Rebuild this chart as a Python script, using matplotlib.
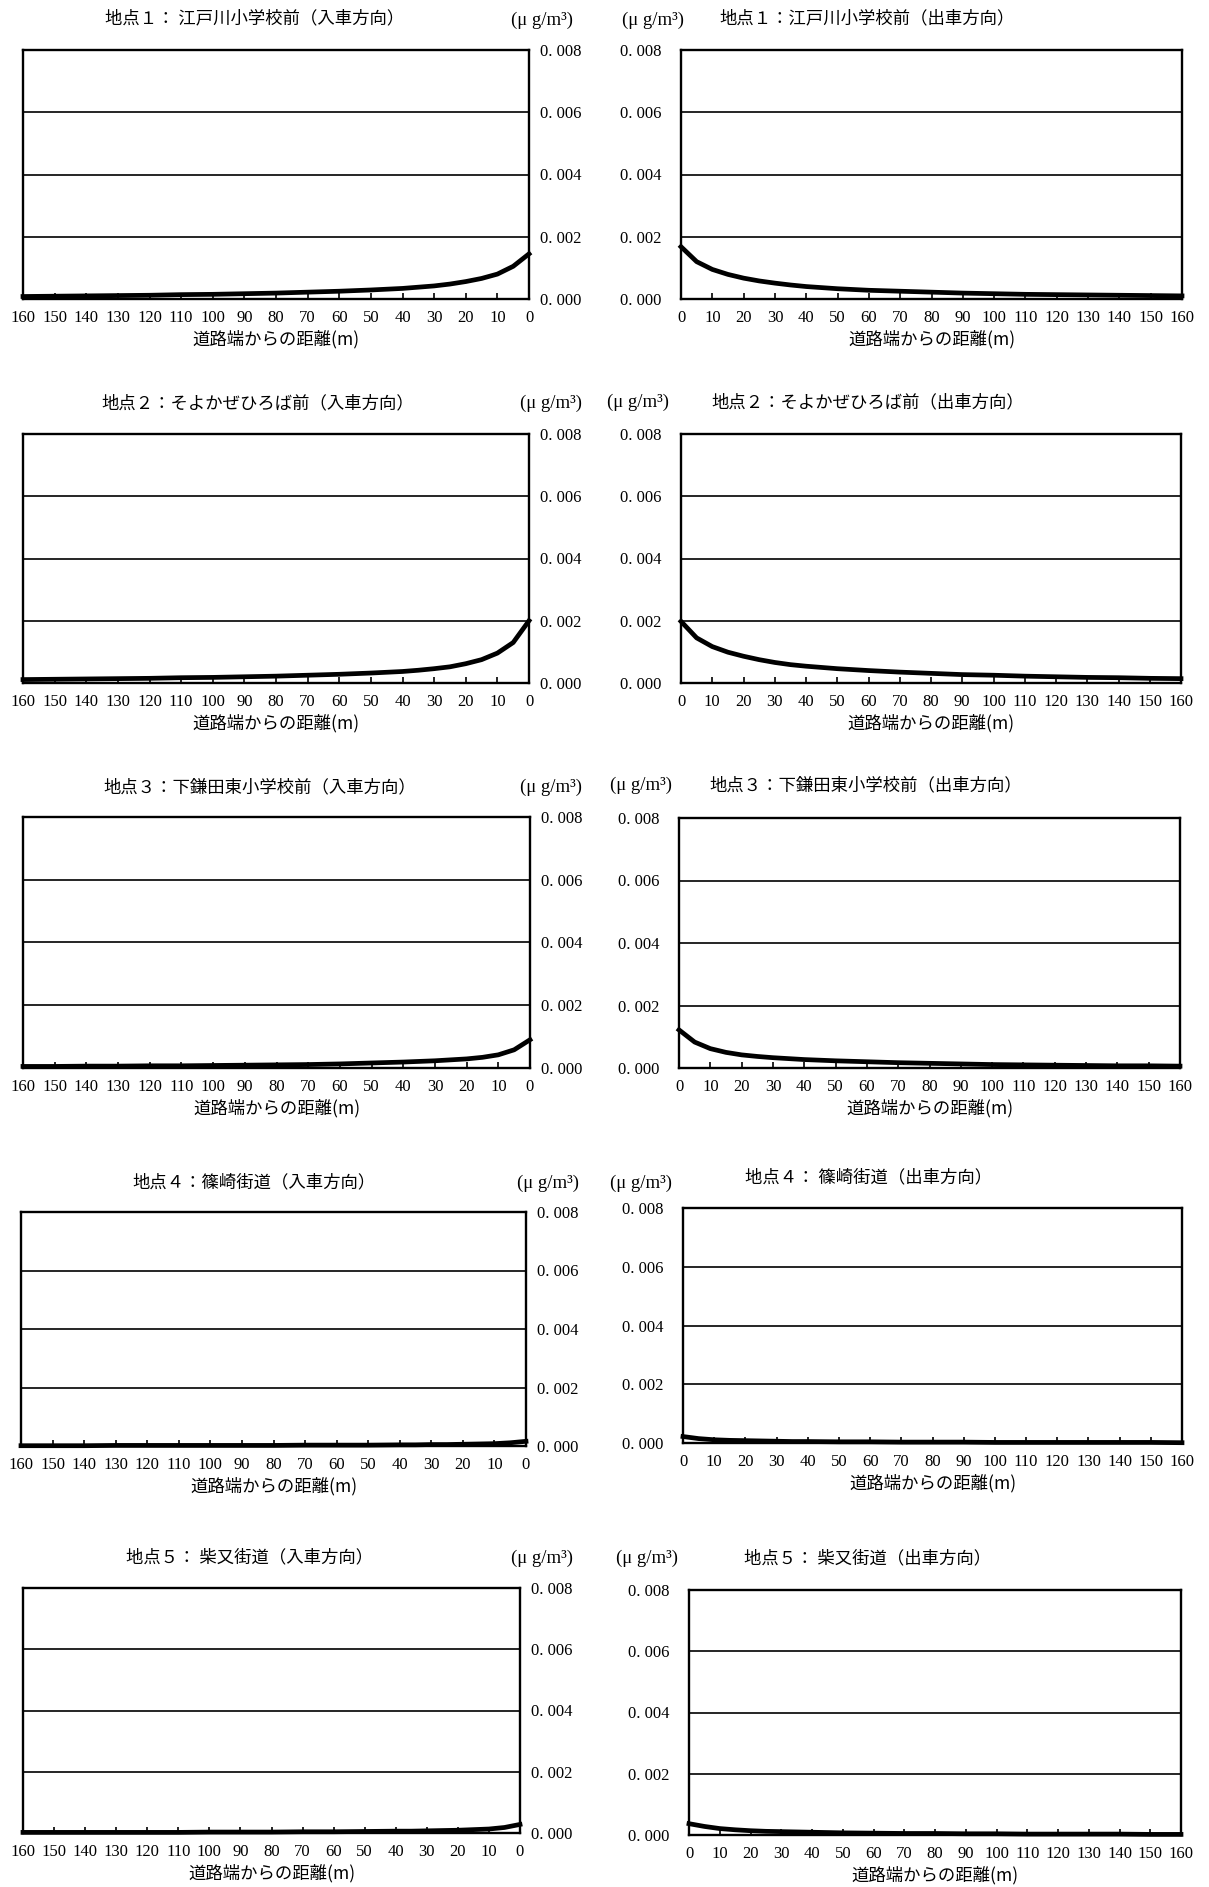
import matplotlib
matplotlib.use('Agg')
import matplotlib.pyplot as plt
from matplotlib.ticker import FixedLocator, FuncFormatter

# 1. data (distance from road edge, concentration ug/m3)
dist = [0, 5, 10, 15, 20, 25, 30, 35, 40, 50, 60, 70, 80, 90, 100,
        110, 120, 130, 140, 150, 160]

p1_in = [0.00145, 0.00105, 0.00080, 0.00066, 0.00056, 0.00048, 0.00042, 0.00038, 0.00034,
         0.00029, 0.00025, 0.00022, 0.00019, 0.00017, 0.00015, 0.00014, 0.00012, 0.00011,
         0.00010, 0.00009, 0.00008]
p1_out = [0.00168, 0.00120, 0.00095, 0.00079, 0.00067, 0.00058, 0.00051, 0.00045, 0.00040,
          0.00033, 0.00028, 0.00025, 0.00022, 0.00019, 0.00017, 0.00015, 0.00014, 0.00013,
          0.00012, 0.00011, 0.00010]
p2_in = [0.00200, 0.00130, 0.00096, 0.00075, 0.00062, 0.00052, 0.00046, 0.00041, 0.00037,
         0.00032, 0.00028, 0.00025, 0.00022, 0.00020, 0.00018, 0.00017, 0.00015, 0.00014,
         0.00013, 0.00012, 0.00011]
p2_out = [0.00198, 0.00145, 0.00117, 0.00099, 0.00086, 0.00075, 0.00066, 0.00059, 0.00054,
          0.00046, 0.00040, 0.00035, 0.00031, 0.00027, 0.00025, 0.00022, 0.00020, 0.00018,
          0.00017, 0.00015, 0.00014]
p3_in = [0.00090, 0.00058, 0.00042, 0.00034, 0.00029, 0.00026, 0.00023, 0.00021, 0.00019,
         0.00016, 0.00013, 0.00011, 0.00010, 0.00009, 0.00008, 0.00007, 0.00007, 0.00006,
         0.00006, 0.00005, 0.00005]
p3_out = [0.00122, 0.00083, 0.00062, 0.00050, 0.00042, 0.00037, 0.00033, 0.00030, 0.00027,
          0.00023, 0.00020, 0.00017, 0.00015, 0.00013, 0.00011, 0.00010, 0.00009, 0.00008,
          0.00007, 0.00007, 0.00006]
p4_in = [0.00016, 0.00011, 0.00008, 0.00007, 0.00006, 0.00005, 0.00005, 0.00004, 0.00004,
         0.00003, 0.00003, 0.00003, 0.00002, 0.00002, 0.00002, 0.00002, 0.00002, 0.00002,
         0.00001, 0.00001, 0.00001]
p4_out = [0.00022, 0.00015, 0.00011, 0.00009, 0.00008, 0.00007, 0.00006, 0.00005, 0.00005,
          0.00004, 0.00004, 0.00003, 0.00003, 0.00003, 0.00002, 0.00002, 0.00002, 0.00002,
          0.00002, 0.00002, 0.00001]
p5_in = [0.00028, 0.00018, 0.00013, 0.00011, 0.00009, 0.00008, 0.00007, 0.00006, 0.00006,
         0.00005, 0.00004, 0.00004, 0.00003, 0.00003, 0.00003, 0.00002, 0.00002, 0.00002,
         0.00002, 0.00002, 0.00002]
p5_out = [0.00037, 0.00028, 0.00021, 0.00017, 0.00014, 0.00012, 0.00011, 0.00010, 0.00009,
          0.00007, 0.00006, 0.00005, 0.00005, 0.00004, 0.00004, 0.00003, 0.00003, 0.00003,
          0.00003, 0.00002, 0.00002]

titles = ['地点１： 江戸川小学校前（入車方向）', '地点１：江戸川小学校前（出車方向）',
          '地点２：そよかぜひろば前（入車方向）', '地点２：そよかぜひろば前（出車方向）',
          '地点３：下鎌田東小学校前（入車方向）', '地点３：下鎌田東小学校前（出車方向）',
          '地点４：篠崎街道（入車方向）', '地点４： 篠崎街道（出車方向）',
          '地点５： 柴又街道（入車方向）', '地点５： 柴又街道（出車方向）']
series = [p1_in, p1_out, p2_in, p2_out, p3_in, p3_out, p4_in, p4_out, p5_in, p5_out]

x_ticks = list(range(0, 161, 10))
y_ticks = [0.000, 0.002, 0.004, 0.006, 0.008]
unit = '(μ g/m³)'
xlab = '道路端からの距離(m)'

# 2. layout in pixels: axes (left, top, right, bottom), title centre (x, y), unit left edge (x, y)
W, H = 1209, 1887
layout = [
    ((23, 50, 529, 299), (255, 18), (511, 20)),
    ((681, 50, 1182, 299), (867, 18), (622, 20)),
    ((23, 434, 529, 683), (258, 403), (520, 403)),
    ((681, 434, 1181, 683), (868, 402), (607, 402)),
    ((23, 817, 530, 1068), (260, 787), (520, 787)),
    ((679, 818, 1180, 1068), (866, 785), (610, 785)),
    ((21, 1212, 526, 1446), (254, 1182), (517, 1183)),
    ((683, 1208, 1182, 1443), (869, 1177), (610, 1183)),
    ((23, 1588, 520, 1833), (250, 1557), (511, 1558)),
    ((689, 1590, 1181, 1835), (868, 1558), (616, 1558)),
]

jp = ['Noto Sans CJK JP', 'DejaVu Sans']
num = ['Liberation Serif', 'Noto Sans CJK JP']


def yfmt(v, p):
    return ('%.3f' % v).replace('.', '. ')


# 3. draw
fig = plt.figure(figsize=(W / 100, H / 100), dpi=100)
fig.patch.set_facecolor('white')

for i in range(10):
    (l, t, r, b), (tx, ty), (ux, uy) = layout[i]
    ax = fig.add_axes([l / W, 1 - b / H, (r - l) / W, (b - t) / H])
    ax.plot(dist, series[i], color='black', lw=3.4, clip_on=False, zorder=3)
    ax.set_xlim(0, 160)
    ax.set_ylim(0, 0.008)
    left_side = (i % 2 == 0)
    if left_side:
        ax.invert_xaxis()
        ax.yaxis.tick_right()
    ax.xaxis.set_major_locator(FixedLocator(x_ticks))
    ax.yaxis.set_major_locator(FixedLocator(y_ticks))
    ax.yaxis.set_major_formatter(FuncFormatter(yfmt))
    for s in ax.spines.values():
        s.set_linewidth(1.7)
        s.set_color('black')
    ax.grid(axis='y', color='black', lw=1.2)
    ax.tick_params(axis='x', direction='in', length=4, width=1.2, pad=8, labelsize=12)
    ax.tick_params(axis='y', length=0, pad=8 if left_side else 14, labelsize=12)
    for lab in ax.get_xticklabels() + ax.get_yticklabels():
        lab.set_family(num)
    ax.set_xlabel(xlab, family=jp, fontsize=12.5, labelpad=3)

    fig.text(tx / W, 1 - ty / H, titles[i], family=jp, fontsize=12.5,
             ha='center', va='center')
    fig.text(ux / W, 1 - uy / H, unit, family=num, fontsize=13.5,
             ha='left', va='center')

plt.savefig('out.png', dpi=100, facecolor='white')
